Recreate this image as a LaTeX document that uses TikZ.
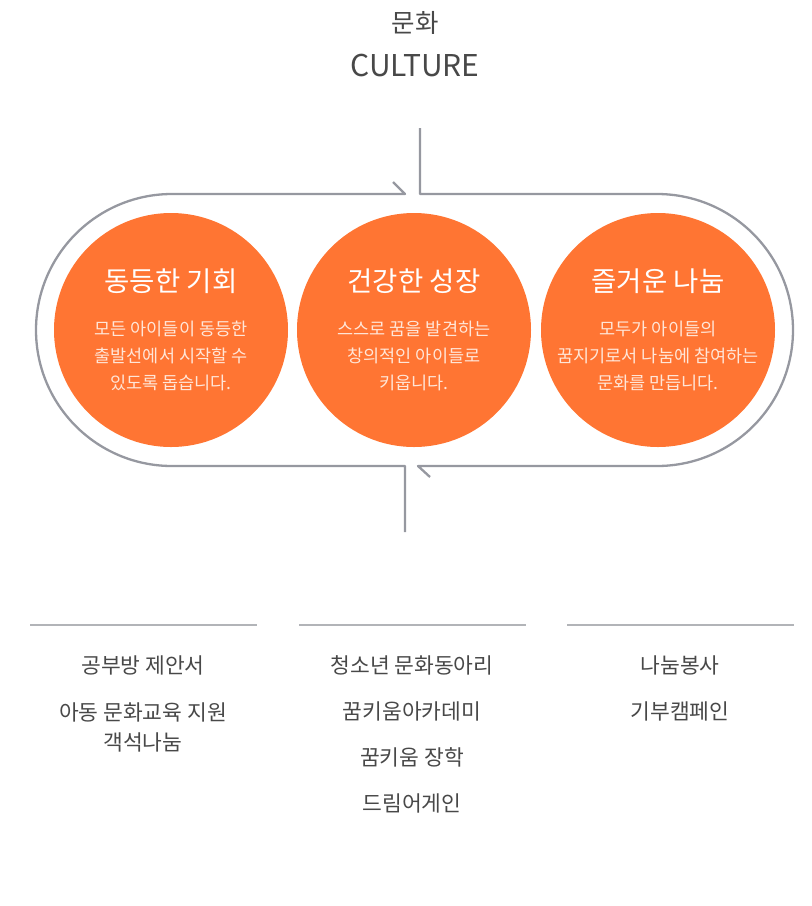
\documentclass[tikz,border=0pt]{standalone}
\usepackage{fontspec}
\setmainfont{Noto Sans CJK KR}
\definecolor{orange1}{RGB}{255,117,51}
\definecolor{descwhite}{RGB}{255,230,216}
\definecolor{trackgrey}{RGB}{150,152,160}
\definecolor{sepgrey}{RGB}{178,180,184}
\definecolor{textgrey}{RGB}{72,72,72}
\begin{document}
\begin{tikzpicture}[x=1pt,y=-1pt,
  track/.style={draw=trackgrey,line width=2.3pt,line join=round},
  bigcirc/.style={circle,fill=orange1,minimum size=234pt,inner sep=0pt},
  ctitle/.style={text=white,font=\fontsize{27.5}{32}\selectfont},
  cdesc/.style={text=descwhite,font=\fontsize{17.5}{27}\selectfont,align=center},
  itemtxt/.style={text=textgrey,font=\fontsize{21.5}{30}\selectfont,align=center},
  toptxt/.style={text=textgrey,font=\fontsize{25.5}{30}\selectfont},
  sepline/.style={draw=sepgrey,line width=1.4pt}]
\useasboundingbox (0,0) rectangle (812,906);

% header
\node[toptxt] (hko) at (415,23) {문화};
\node[toptxt,font=\fontsize{30}{34}\selectfont] (hen) at (415,65) {CULTURE};

% racetrack
\coordinate (atop) at (420,128);
\coordinate (aend) at (418,466);
\coordinate (bbot) at (405,532);
\coordinate (bend) at (405,194);
\draw[track] (atop) -- (420,194) -- (657,194) arc[start angle=-90,end angle=90,radius=136] -- (aend) -- ++(12,11);
\draw[track] (bbot) -- (405,466) -- (172,466) arc[start angle=90,end angle=270,radius=136] -- (bend) -- ++(-12,-12);

% circles
\node[bigcirc] (c1) at (171,330) {};
\node[bigcirc] (c2) at (414,330) {};
\node[bigcirc] (c3) at (658,330) {};

\node[ctitle] (t1) at (171,281) {동등한 기회};
\node[ctitle] (t2) at (414,281) {건강한 성장};
\node[ctitle] (t3) at (658,281) {즐거운 나눔};

\node[cdesc] (d1) at (171,356) {모든 아이들이 동등한\\출발선에서 시작할 수\\있도록 돕습니다.};
\node[cdesc] (d2) at (414,356) {스스로 꿈을 발견하는\\창의적인 아이들로\\키웁니다.};
\node[cdesc] (d3) at (658,356) {모두가 아이들의\\꿈지기로서 나눔에 참여하는\\문화를 만듭니다.};

% separators
\coordinate (s1a) at (30,625);  \coordinate (s1b) at (257,625);
\coordinate (s2a) at (299,625); \coordinate (s2b) at (526,625);
\coordinate (s3a) at (567,625); \coordinate (s3b) at (794,625);
\draw[sepline] (s1a) -- (s1b);
\draw[sepline] (s2a) -- (s2b);
\draw[sepline] (s3a) -- (s3b);

% column items
\node[itemtxt] (i11) at (143,665) {공부방 제안서};
\node[itemtxt] (i12) at (143,727) {아동 문화교육 지원\\객석나눔};

\node[itemtxt] (i21) at (412,665) {청소년 문화동아리};
\node[itemtxt] (i22) at (412,711) {꿈키움아카데미};
\node[itemtxt] (i23) at (412,757) {꿈키움 장학};
\node[itemtxt] (i24) at (412,803) {드림어게인};

\node[itemtxt] (i31) at (680,665) {나눔봉사};
\node[itemtxt] (i32) at (680,711) {기부캠페인};
\end{tikzpicture}
\end{document}
